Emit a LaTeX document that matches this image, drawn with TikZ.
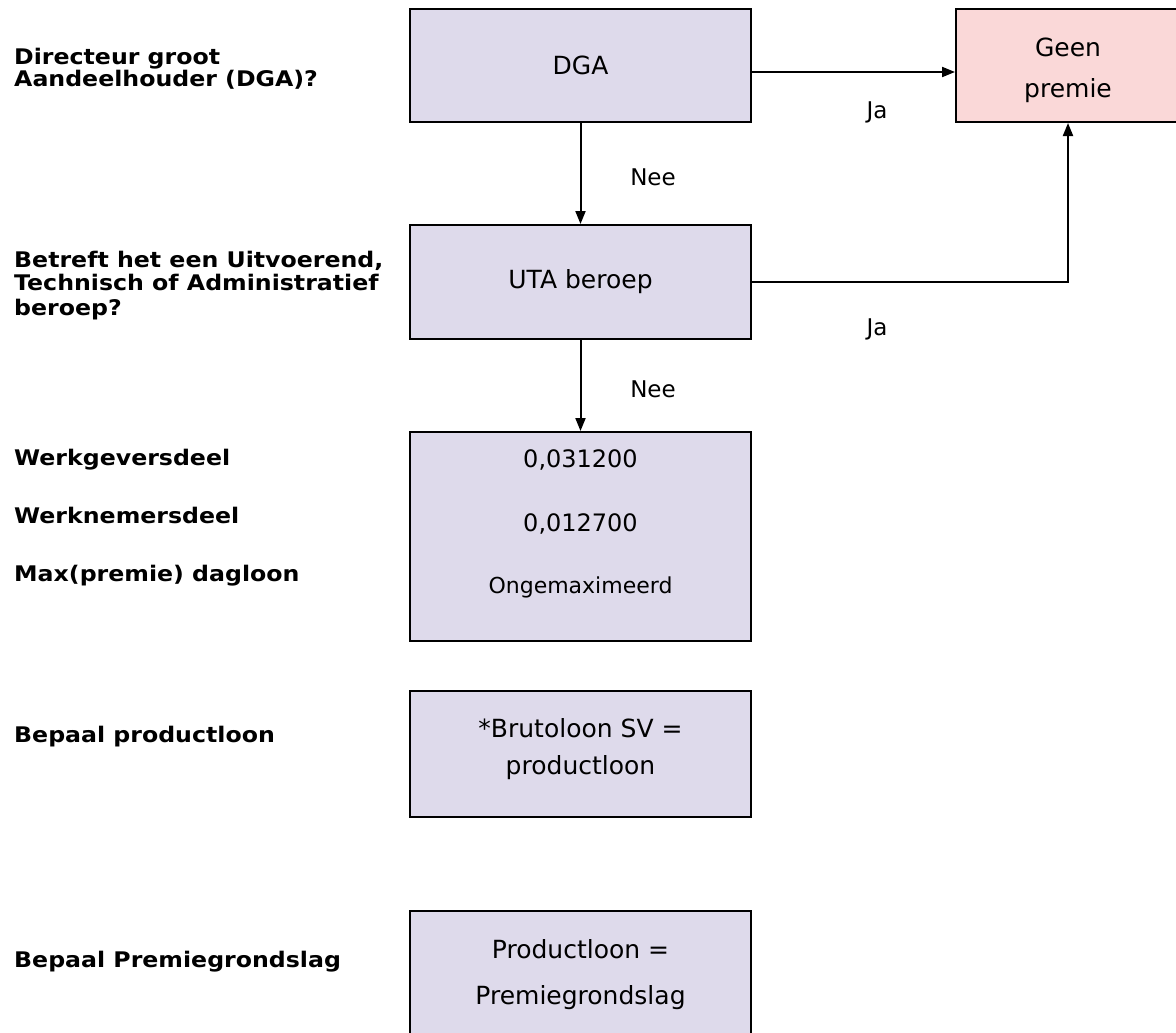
\documentclass[tikz,border=0pt]{standalone}
\usepackage{fontspec}
\setmainfont{DejaVu Sans}
\newfontfamily\vetfont[FakeStretch=1.1]{DejaVu Sans}
\usetikzlibrary{arrows.meta}

\definecolor{paars}{HTML}{DEDAEB}
\definecolor{roze}{HTML}{FAD8D8}

\tikzset{
  vak/.style={draw,line width=2pt,fill=paars,minimum width=341pt,inner sep=0pt,
    font=\fontsize{25}{30}\selectfont},
  tekst/.style={anchor=base,inner sep=0pt,font=\fontsize{25}{30}\selectfont},
  pijl/.style={line width=2pt,-{Triangle[length=13pt,width=10pt]}},
  vraag/.style={anchor=base west,inner sep=0pt,
    font=\vetfont\bfseries\fontsize{21.5}{26}\selectfont},
  antw/.style={anchor=base,inner sep=0pt,font=\fontsize{23}{26}\selectfont},
}

\begin{document}
\begin{tikzpicture}[x=1pt,y=-1pt]
\useasboundingbox (0,0) rectangle (1176,1033);
\clip (0,0) rectangle (1176,1033);

% vragen links
\node[vraag] (v1a) at (14,65) {Directeur groot};
\node[vraag] (v1b) at (14,87) {Aandeelhouder (DGA)?};
\node[vraag] (v2a) at (14,267) {Betreft het een Uitvoerend,};
\node[vraag] (v2b) at (14,290) {Technisch of Administratief};
\node[vraag] (v2c) at (14,315) {beroep?};
\node[vraag] (v3a) at (14,465) {Werkgeversdeel};
\node[vraag] (v3b) at (14,523) {Werknemersdeel};
\node[vraag] (v3c) at (14,581) {Max(premie) dagloon};
\node[vraag] (v4) at (14,742) {Bepaal productloon};
\node[vraag] (v5) at (14,967) {Bepaal Premiegrondslag};

% vakken
\node[vak,minimum height=113pt] (dga) at (580.5,65.5) {DGA};
\node[vak,fill=roze,minimum width=224pt,minimum height=113pt] (geen) at (1068,65.5) {};
\node[tekst] (geenA) at (1068,57) {Geen};
\node[tekst] (geenB) at (1068,97) {premie};
\node[vak,minimum height=114pt] (uta) at (580.5,282) {UTA beroep};
\node[vak,minimum height=209pt] (tarief) at (580.5,536.5) {};
\node[tekst,font=\fontsize{24}{30}\selectfont] (wg) at (580.5,467) {0,031200};
\node[tekst,font=\fontsize{24}{30}\selectfont] (wn) at (580.5,531) {0,012700};
\node[tekst,font=\fontsize{22}{30}\selectfont] (max) at (580.5,593) {Ongemaximeerd};
\node[vak,minimum height=126pt] (bruto) at (580.5,754) {};
\node[tekst] (brutoA) at (580.5,737) {*Brutoloon SV =};
\node[tekst] (brutoB) at (580.5,774) {productloon};
\node[vak,minimum height=130pt] (grondslag) at (580.5,976) {};
\node[tekst] (grondA) at (580.5,958) {Productloon =};
\node[tekst] (grondB) at (580.5,1004) {Premiegrondslag};

% pijlen
\draw[pijl] ([yshift=-6.5pt]dga.east) -- ([yshift=-6.5pt]geen.west);
\draw[pijl] (uta.east) -| (geen.south);
\draw[pijl] (dga.south) -- (uta.north);
\draw[pijl] (uta.south) -- (tarief.north);

\node[antw] (ja1) at (877,118) {Ja};
\node[antw] (ja2) at (877,335) {Ja};
\node[antw] (nee1) at (653,185) {Nee};
\node[antw] (nee2) at (653,397) {Nee};
\end{tikzpicture}
\end{document}
